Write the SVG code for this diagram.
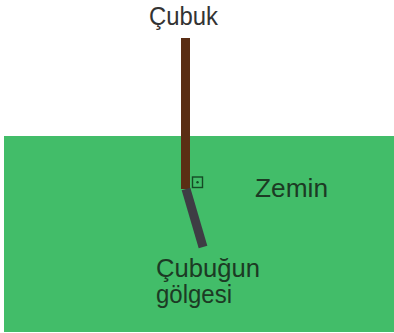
<svg xmlns="http://www.w3.org/2000/svg" width="394" height="333" viewBox="0 0 394 333">
<style>
.lbl{font-family:"Liberation Sans",Arial,sans-serif;font-size:25px}
.dark{fill:#1c3a24}
</style>
<rect width="394" height="333" fill="#ffffff"/>
<g id="ground">
<rect x="4" y="136" width="390" height="196" fill="#42bd69"/>
<text class="lbl dark" x="255" y="197" textLength="73" lengthAdjust="spacingAndGlyphs">Zemin</text>
</g>
<g id="stick">
<rect x="181" y="38" width="9" height="151" fill="#5a2e14"/>
<text class="lbl" x="149" y="25" fill="#333333" textLength="69" lengthAdjust="spacingAndGlyphs">Çubuk</text>
</g>
<g id="shadow">
<line x1="186" y1="189" x2="203" y2="247" stroke="#3e3d44" stroke-width="9"/>
<text class="lbl dark" x="156" y="277" textLength="104" lengthAdjust="spacingAndGlyphs">Çubuğun</text>
<text class="lbl dark" x="156" y="303" textLength="76" lengthAdjust="spacingAndGlyphs">gölgesi</text>
</g>
<g id="right-angle">
<rect x="192.5" y="177" width="10" height="10.5" fill="none" stroke="#154a25" stroke-width="1.4"/>
<circle cx="197.5" cy="182.2" r="1.2" fill="#154a25"/>
</g>
</svg>
